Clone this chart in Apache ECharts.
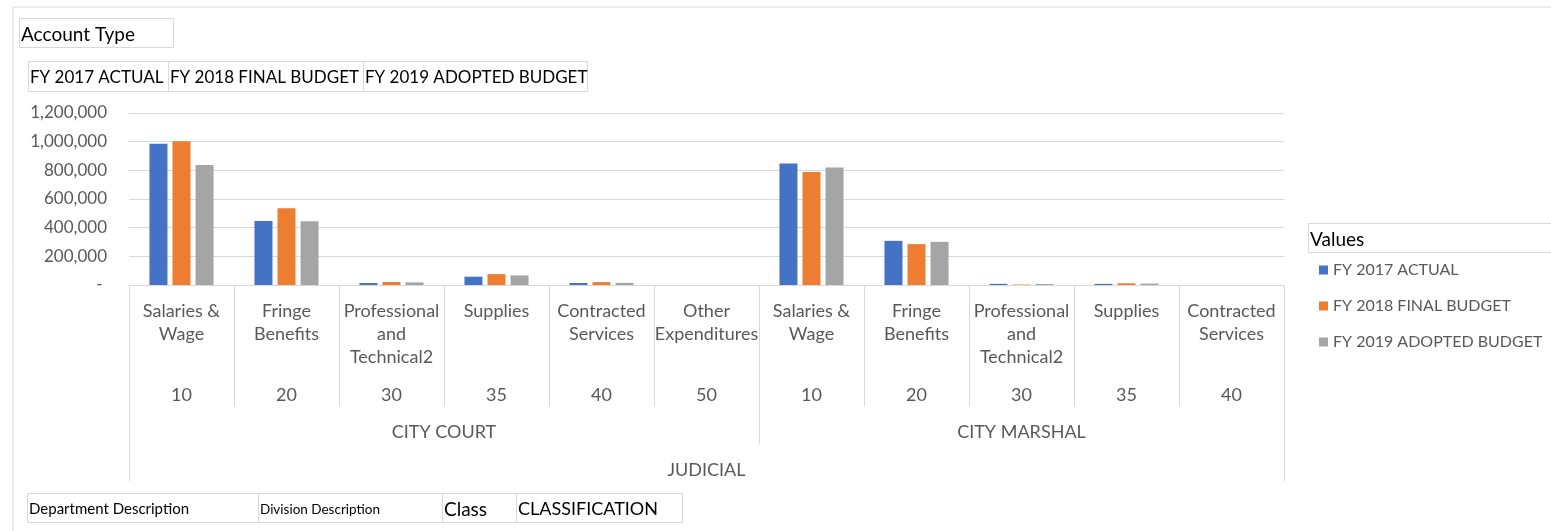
<!DOCTYPE html>
<html>
<head>
<meta charset="utf-8">
<script src="https://cdn.jsdelivr.net/npm/echarts@6/dist/echarts.min.js"></script>
<style>
  html, body { margin: 0; padding: 0; background: #fff; }
  #chart { width: 1551px; height: 531px; }
</style>
</head>
<body>
<div id="chart"></div>
<script>
// ---- data ----
const categories = ['Salaries &\nWage', 'Fringe\nBenefits', 'Professional\nand\nTechnical2', 'Supplies', 'Contracted\nServices', 'Other\nExpenditures',
                    'Salaries &\nWage', 'Fringe\nBenefits', 'Professional\nand\nTechnical2', 'Supplies', 'Contracted\nServices'];
const classCodes = ['10', '20', '30', '35', '40', '50', '10', '20', '30', '35', '40'];
const divisions = ['CITY COURT', 'CITY COURT', 'CITY COURT', 'CITY COURT', 'CITY COURT', 'CITY COURT',
                   'CITY MARSHAL', 'CITY MARSHAL', 'CITY MARSHAL', 'CITY MARSHAL', 'CITY MARSHAL'];
const departments = ['JUDICIAL', 'JUDICIAL', 'JUDICIAL', 'JUDICIAL', 'JUDICIAL', 'JUDICIAL',
                     'JUDICIAL', 'JUDICIAL', 'JUDICIAL', 'JUDICIAL', 'JUDICIAL'];
const seriesNames = ['FY 2017 ACTUAL', 'FY 2018 FINAL BUDGET', 'FY 2019 ADOPTED BUDGET'];
const fy2017Actual = [985000, 447000, 14000, 58000, 14000, 0, 848000, 308000, 8000, 8000, 0];
const fy2018Final = [1003000, 535000, 21000, 76000, 20000, 0, 788000, 285000, 3000, 12000, 0];
const fy2019Adopted = [837000, 445000, 18000, 67000, 15000, 0, 820000, 301000, 7000, 10000, 0];
const yTicks = { min: 0, max: 1200000, interval: 200000 };
const colors = ['#4472C4', '#ED7D31', '#A5A5A5'];

// ---- helpers: build group spans on a half-step point axis ----
function groupInfo(arr) {
  const groups = [];
  let start = 0;
  for (let i = 1; i <= arr.length; i++) {
    if (i === arr.length || arr[i] !== arr[start]) {
      groups.push({ name: arr[start], a: start, b: i });
      start = i;
    }
  }
  const labels = {}; const bounds = new Set();
  groups.forEach(g => { labels[g.a + g.b] = g.name; bounds.add(2 * g.a); bounds.add(2 * g.b); });
  return { labels, bounds };
}
const N = categories.length;
const halfPoints = Array.from({ length: 2 * N + 1 }, (_, i) => String(i));
const divInfo = groupInfo(divisions);
const depInfo = groupInfo(departments);

const FONT = 'Lato';
const gray = '#595959';
const lineC = '#D9D9D9';

function fmtY(v) {
  if (v === 0) return '- ';
  return v.toLocaleString('en-US');
}

function box(x, y, w, h, text, size) {
  return {
    type: 'group', left: x, top: y, silent: true,
    children: [
      { type: 'rect', shape: { x: 0, y: 0, width: w, height: h }, style: { fill: '#fff', stroke: lineC, lineWidth: 1 } },
      { type: 'text', x: 1.5, y: h / 2 + 1.5, style: { text: text, font: size + 'px ' + FONT, fill: '#000', verticalAlign: 'middle' } }
    ]
  };
}

const chart = echarts.init(document.getElementById('chart'), null, { renderer: 'canvas' });
const option = {
  animation: false,
  color: colors,
  textStyle: { fontFamily: FONT },
  grid: { left: 129, right: 267, top: 113, bottom: 246, containLabel: false },
  legend: {
    orient: 'vertical', left: 1314, top: 256,
    icon: 'rect', itemWidth: 9, itemHeight: 9, itemGap: 18,
    textStyle: { color: gray, fontSize: 16, fontFamily: FONT, lineHeight: 18 },
    data: seriesNames
  },
  xAxis: [
    {
      type: 'category', data: categories, position: 'bottom',
      axisLine: { lineStyle: { color: lineC, width: 1 } },
      axisTick: { show: true, interval: 0, length: 121, lineStyle: { color: lineC, width: 1 } },
      axisLabel: { interval: 0, color: gray, fontSize: 18, fontFamily: FONT, lineHeight: 23, margin: 15 }
    },
    {
      type: 'category', data: categories, position: 'bottom',
      axisLine: { show: false }, axisTick: { show: false },
      axisLabel: { interval: 0, color: gray, fontSize: 18, fontFamily: FONT, lineHeight: 23, margin: 99,
        formatter: (v, i) => classCodes[i] }
    },
    {
      type: 'category', data: halfPoints, boundaryGap: false, position: 'bottom',
      axisLine: { show: false },
      axisTick: { show: true, length: 159, interval: (i) => divInfo.bounds.has(i), lineStyle: { color: lineC, width: 1 } },
      axisLabel: { interval: (i) => divInfo.labels[i] !== undefined, color: gray, fontSize: 18, fontFamily: FONT, lineHeight: 23, margin: 136,
        formatter: (v, i) => divInfo.labels[i] || '' }
    },
    {
      type: 'category', data: halfPoints, boundaryGap: false, position: 'bottom',
      axisLine: { show: false },
      axisTick: { show: true, length: 196, interval: (i) => depInfo.bounds.has(i), lineStyle: { color: lineC, width: 1 } },
      axisLabel: { interval: (i) => depInfo.labels[i] !== undefined, color: gray, fontSize: 18, fontFamily: FONT, lineHeight: 23, margin: 174,
        formatter: (v, i) => depInfo.labels[i] || '' }
    }
  ],
  yAxis: {
    type: 'value', min: yTicks.min, max: yTicks.max, interval: yTicks.interval,
    axisLine: { show: false }, axisTick: { show: false },
    splitLine: { lineStyle: { color: lineC, width: 1 } },
    axisLabel: { color: gray, fontSize: 17, fontFamily: FONT, margin: 22, formatter: fmtY }
  },
  series: [
    { name: seriesNames[0], type: 'bar', data: fy2017Actual, barWidth: 18, barGap: '28%' },
    { name: seriesNames[1], type: 'bar', data: fy2018Final, barWidth: 18, barGap: '28%' },
    { name: seriesNames[2], type: 'bar', data: fy2019Adopted, barWidth: 18, barGap: '28%' }
  ],
  graphic: [
    { type: 'rect', left: 10.5, top: 4.5, silent: true, z: -10,
      shape: { width: 1600, height: 600 }, style: { fill: 'none', stroke: lineC, lineWidth: 1 } },
    box(19, 18, 154, 29, 'Account Type', 19),
    box(28, 61, 140, 30, seriesNames[0], 17),
    box(168, 61, 195, 30, seriesNames[1], 17),
    box(363, 61, 224, 30, seriesNames[2], 17),
    box(1308, 223, 260, 29, 'Values', 19),
    box(27, 493, 231, 29, 'Department Description', 15),
    box(258, 493, 184, 29, 'Division Description', 13.5),
    box(442, 493, 74, 29, 'Class', 19),
    box(516, 493, 166, 29, 'CLASSIFICATION', 18)
  ]
};
chart.setOption(option);
</script>
</body>
</html>
